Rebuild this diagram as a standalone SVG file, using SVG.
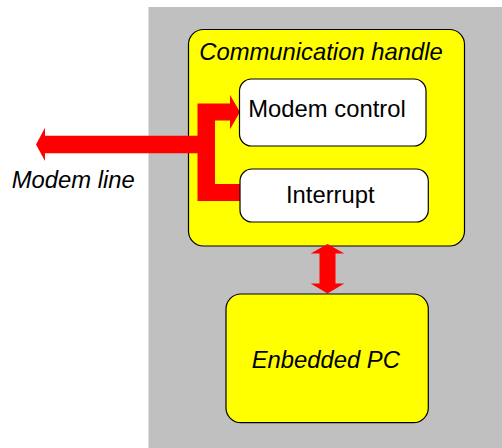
<svg xmlns="http://www.w3.org/2000/svg" width="502" height="448" viewBox="0 0 502 448">
<style>
.box{stroke:#000;stroke-width:1.2}
.yel{fill:#FFFF00}
.wht{fill:#FFFFFF}
.t{font-family:"Liberation Sans",Arial,sans-serif;font-size:23.8px;fill:#000}
.i{font-style:italic}
.arrow{fill:#FF0000;stroke:none}
</style>
<rect x="0" y="0" width="502" height="448" fill="#FFFFFF"/>
<rect id="background" x="148.5" y="7" width="353.5" height="441" fill="#C0C0C0"/>
<g id="communication-handle">
<rect class="box yel" x="188.5" y="29.5" width="276" height="216.5" rx="15" ry="15"/>
<text class="t i" x="199.3" y="60">Communication handle</text>
</g>
<g id="connectors">
<path class="arrow" d="M36,144.5 L45,127.7 L45,135.7 L197.5,135.7 L197.5,103.5 L230,103.5 L230,95 L240,112 L230,129.3 L230,120.5 L215,120.5 L215,184 L241,184 L241,201 L197.5,201 L197.5,153.3 L45,153.3 L45,161 Z"/>
<path class="arrow" d="M327.5,244 L344.3,253.5 L335.5,253.5 L335.5,283.5 L344.3,283.5 L327.5,293.5 L310.7,283.5 L319.5,283.5 L319.5,253.5 L310.7,253.5 Z"/>
</g>
<g id="modem-control">
<rect class="box wht" x="239.5" y="79" width="186.5" height="67" rx="12" ry="12"/>
<text class="t" x="248.3" y="117.3">Modem control</text>
</g>
<g id="interrupt">
<rect class="box wht" x="240" y="169" width="188.3" height="53" rx="12" ry="12"/>
<text class="t" x="286" y="202.7">Interrupt</text>
</g>
<g id="modem-line">
<text class="t i" x="11.7" y="188.3">Modem line</text>
</g>
<g id="embedded-pc">
<rect class="box yel" x="226" y="294" width="202.3" height="128.7" rx="15" ry="15"/>
<text class="t i" x="251.7" y="368.3">Enbedded PC</text>
</g>
</svg>
